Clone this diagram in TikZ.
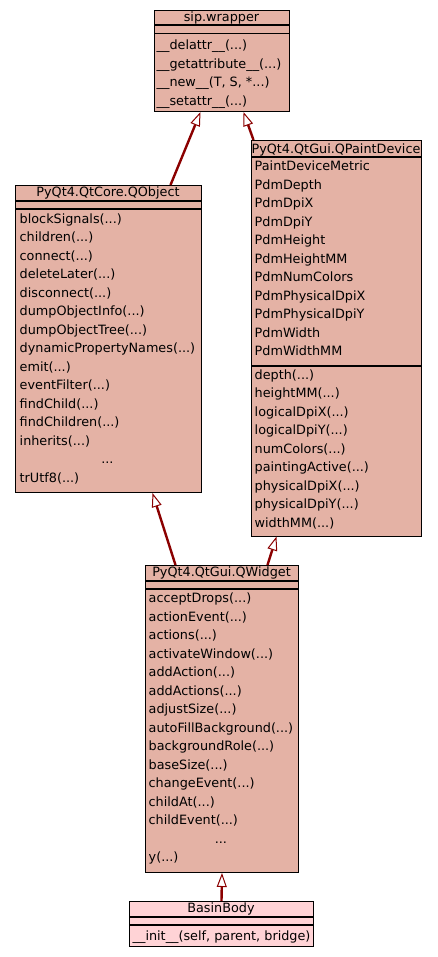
\documentclass[tikz,border=0pt]{standalone}
\usepackage{fontspec}
\setmainfont{DejaVu Sans}
\usetikzlibrary{arrows.meta, positioning}
\definecolor{classfill}{RGB}{228,178,165}
\definecolor{basinfill}{RGB}{255,211,214}
\definecolor{edgered}{RGB}{139,0,0}
\tikzstyle{classbox} = [rectangle, draw=black, fill=classfill, line width=1pt, anchor=north west, inner sep=0pt]
\tikzstyle{classtitle} = [inner sep=0pt, anchor=base, font=\fontsize{12.8}{18.5}\selectfont]
\tikzstyle{memberlist} = [inner sep=0pt, anchor=base west, font=\fontsize{12.8}{18.5}\selectfont]
\tikzstyle{separator} = [draw=black, line width=1.2pt]
\tikzstyle{inherit} = [line width=2.4pt, draw=edgered, -{Triangle[length=14pt, width=10pt, fill=white, line width=1pt]}]

\begin{document}
\begin{tikzpicture}[x=1pt, y=-1pt]
    \useasboundingbox (0,0) rectangle (437,957);
    \fill[white] (0,0) rectangle (437,957);

    % sip.wrapper
    \node (sip) [classbox, minimum width=135pt, minimum height=101pt] at (154,10) {};
    \draw [separator] ([yshift=-15pt]sip.north west) -- ([yshift=-15pt]sip.north east);
    \draw [separator] ([yshift=-23.5pt]sip.north west) -- ([yshift=-23.5pt]sip.north east);
    \node (siptitle) [classtitle] at (221.5,21.5) {sip.wrapper};
    \node (sipmethods) [memberlist] at (156.5,50) {\begin{tabular}[t]{@{}l@{}}
        \_\_delattr\_\_(...)\\
        \_\_getattribute\_\_(...)\\
        \_\_new\_\_(T, S, *...)\\
        \_\_setattr\_\_(...)
    \end{tabular}};

    % PyQt4.QtCore.QObject
    \node (qobject) [classbox, minimum width=186pt, minimum height=307pt] at (15,185) {};
    \draw [separator] ([yshift=-16pt]qobject.north west) -- ([yshift=-16pt]qobject.north east);
    \draw [separator] ([yshift=-24pt]qobject.north west) -- ([yshift=-24pt]qobject.north east);
    \node (qobjecttitle) [classtitle] at (108,196.7) {PyQt4.QtCore.QObject};
    \node (qobjectmethods) [memberlist] at (19.5,223.3) {\begin{tabular}[t]{@{}l@{}}
        blockSignals(...)\\
        children(...)\\
        connect(...)\\
        deleteLater(...)\\
        disconnect(...)\\
        dumpObjectInfo(...)\\
        dumpObjectTree(...)\\
        dynamicPropertyNames(...)\\
        emit(...)\\
        eventFilter(...)\\
        findChild(...)\\
        findChildren(...)\\
        inherits(...)\\
        \multicolumn{1}{@{}c@{}}{...}\\
        trUtf8(...)
    \end{tabular}};

    % PyQt4.QtGui.QPaintDevice
    \node (qpaintdevice) [classbox, minimum width=170pt, minimum height=395.5pt] at (251,140) {};
    \draw [separator] ([yshift=-17pt]qpaintdevice.north west) -- ([yshift=-17pt]qpaintdevice.north east);
    \draw [separator] ([yshift=-226pt]qpaintdevice.north west) -- ([yshift=-226pt]qpaintdevice.north east);
    \node (qpaintdevicetitle) [classtitle] at (336,153.3) {PyQt4.QtGui.QPaintDevice};
    \node (qpaintdeviceattrs) [memberlist] at (254.5,171) {\begin{tabular}[t]{@{}l@{}}
        PaintDeviceMetric\\
        PdmDepth\\
        PdmDpiX\\
        PdmDpiY\\
        PdmHeight\\
        PdmHeightMM\\
        PdmNumColors\\
        PdmPhysicalDpiX\\
        PdmPhysicalDpiY\\
        PdmWidth\\
        PdmWidthMM
    \end{tabular}};
    \node (qpaintdevicemethods) [memberlist] at (254.5,379.3) {\begin{tabular}[t]{@{}l@{}}
        depth(...)\\
        heightMM(...)\\
        logicalDpiX(...)\\
        logicalDpiY(...)\\
        numColors(...)\\
        paintingActive(...)\\
        physicalDpiX(...)\\
        physicalDpiY(...)\\
        widthMM(...)
    \end{tabular}};

    % PyQt4.QtGui.QWidget
    \node (qwidget) [classbox, minimum width=153pt, minimum height=307pt] at (145,565) {};
    \draw [separator] ([yshift=-16pt]qwidget.north west) -- ([yshift=-16pt]qwidget.north east);
    \draw [separator] ([yshift=-24pt]qwidget.north west) -- ([yshift=-24pt]qwidget.north east);
    \node (qwidgettitle) [classtitle] at (221.5,576.7) {PyQt4.QtGui.QWidget};
    \node (qwidgetmethods) [memberlist] at (148.5,602.7) {\begin{tabular}[t]{@{}l@{}}
        acceptDrops(...)\\
        actionEvent(...)\\
        actions(...)\\
        activateWindow(...)\\
        addAction(...)\\
        addActions(...)\\
        adjustSize(...)\\
        autoFillBackground(...)\\
        backgroundRole(...)\\
        baseSize(...)\\
        changeEvent(...)\\
        childAt(...)\\
        childEvent(...)\\
        \multicolumn{1}{@{}c@{}}{...}\\
        y(...)
    \end{tabular}};

    % BasinBody
    \node (basinbody) [classbox, fill=basinfill, minimum width=184pt, minimum height=45pt] at (129,901) {};
    \draw [separator] ([yshift=-16pt]basinbody.north west) -- ([yshift=-16pt]basinbody.north east);
    \draw [separator] ([yshift=-24pt]basinbody.north west) -- ([yshift=-24pt]basinbody.north east);
    \node (basinbodytitle) [classtitle] at (221,912.7) {BasinBody};
    \node (basinbodymethods) [memberlist] at (132.5,940) {\_\_init\_\_(self, parent, bridge)};

    % inheritance
    \draw [inherit] ([xshift=62pt]qobject.north) -- ([xshift=-21.5pt]sip.south);
    \draw [inherit] ([xshift=-83pt]qpaintdevice.north) -- ([xshift=21.5pt]sip.south);
    \draw [inherit] ([xshift=-46.5pt]qwidget.north) -- ([xshift=44pt]qobject.south);
    \draw [inherit] ([xshift=45.5pt]qwidget.north) -- ([xshift=-60pt]qpaintdevice.south);
    \draw [inherit] (basinbody.north) -- (qwidget.south);

\end{tikzpicture}
\end{document}
